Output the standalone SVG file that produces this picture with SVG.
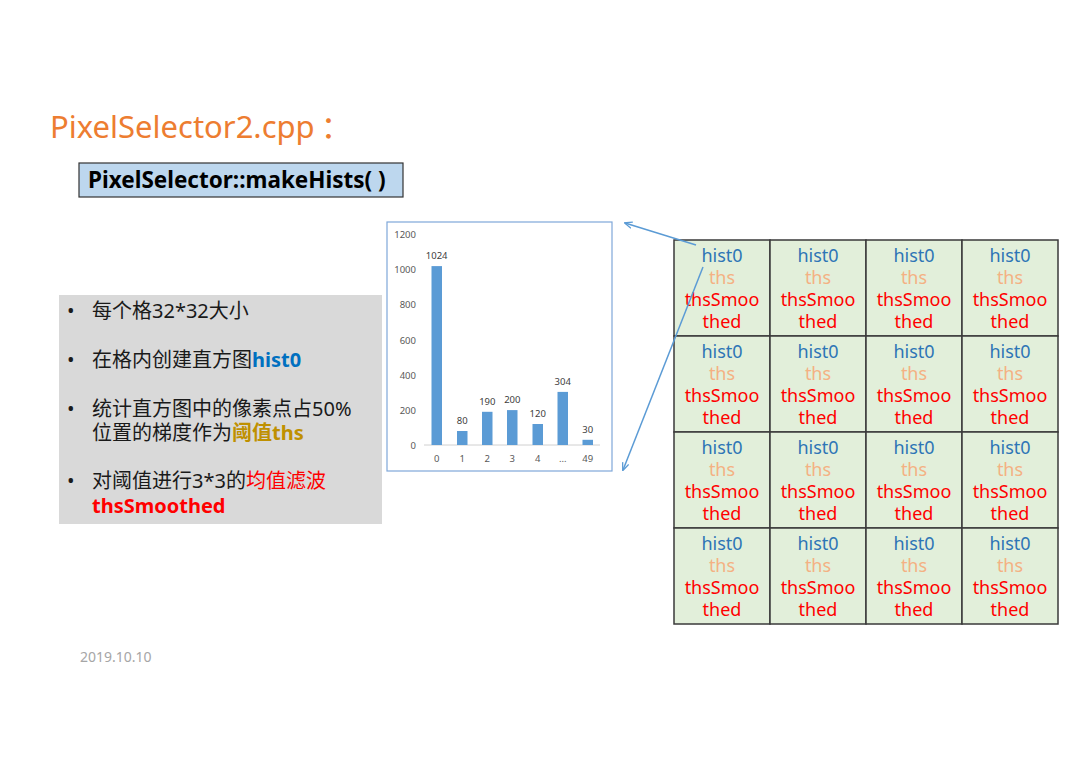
<svg xmlns="http://www.w3.org/2000/svg" width="1080" height="762" viewBox="0 0 1080 762">
<defs>
<style>
text{font-family:"Noto Sans","Noto Sans CJK SC",sans-serif;}
.title{font-size:31px;fill:#ED7D31;}
.fn{font-size:22.5px;font-weight:bold;fill:#000;}
.ax{font-size:9.5px;fill:#595959;text-anchor:end;}
.xl{font-size:9.5px;fill:#595959;text-anchor:middle;}
.vl{font-size:9.5px;fill:#404040;text-anchor:middle;}
.bar{fill:#5B9BD5;}
.bl{font-size:20px;fill:#1a1a1a;}
.cell{fill:#E2EFDA;stroke:#3A3A3A;stroke-width:1.5;}
.c{font-size:18px;text-anchor:middle;}
.h{fill:#2E75B6;}
.t{fill:#F4B183;}
.s{fill:#FF0000;}
.conn{stroke:#5B9BD5;stroke-width:1.5;fill:none;marker-end:url(#ah);}
</style>
<marker id="ah" viewBox="0 0 10 10" refX="9" refY="5" markerWidth="8" markerHeight="8" orient="auto-start-reverse" markerUnits="userSpaceOnUse">
<path d="M0,1 L10,5 L0,9" fill="none" stroke="#5B9BD5" stroke-width="1.6"/>
</marker>
</defs>
<rect width="1080" height="762" fill="#fff"/>

<g id="title"><text class="title" x="50" y="138">PixelSelector2.cpp<tspan dx="6">：</tspan></text></g>

<g id="func">
<rect x="79" y="163" width="324" height="34" fill="#BDD7EE" stroke="#333" stroke-width="1.2"/>
<text class="fn" x="88" y="188">PixelSelector::makeHists( )</text>
</g>

<g id="chart">
<rect x="387" y="222" width="225" height="249" fill="#fff" stroke="#7FA7D9" stroke-width="1.2"/>
<text class="ax" x="416" y="238">1200</text>
<text class="ax" x="416" y="273">1000</text>
<text class="ax" x="416" y="308">800</text>
<text class="ax" x="416" y="344">600</text>
<text class="ax" x="416" y="379">400</text>
<text class="ax" x="416" y="414">200</text>
<text class="ax" x="416" y="449">0</text>
<line x1="424" y1="445" x2="600" y2="445" stroke="#D0D0D0" stroke-width="1"/>
<rect class="bar" x="431.5" y="266.1" width="10.5" height="178.9"/>
<rect class="bar" x="457" y="431" width="10.5" height="14"/>
<rect class="bar" x="482" y="411.8" width="10.5" height="33.2"/>
<rect class="bar" x="507" y="410.1" width="10.5" height="34.9"/>
<rect class="bar" x="532.5" y="424" width="10.5" height="21"/>
<rect class="bar" x="557.5" y="391.9" width="10.5" height="53.1"/>
<rect class="bar" x="582.5" y="439.8" width="10.5" height="5.2"/>
<text class="vl" x="436.7" y="259">1024</text>
<text class="vl" x="462.3" y="424">80</text>
<text class="vl" x="487.3" y="405">190</text>
<text class="vl" x="512.3" y="403">200</text>
<text class="vl" x="537.7" y="417">120</text>
<text class="vl" x="562.7" y="385">304</text>
<text class="vl" x="587.7" y="433">30</text>
<text class="xl" x="436.7" y="462">0</text>
<text class="xl" x="462.3" y="462">1</text>
<text class="xl" x="487.3" y="462">2</text>
<text class="xl" x="512.3" y="462">3</text>
<text class="xl" x="537.7" y="462">4</text>
<text class="xl" x="562.7" y="462">…</text>
<text class="xl" x="587.7" y="462">49</text>
</g>

<g id="bullets">
<rect x="59" y="295" width="323" height="229" fill="#D9D9D9"/>
<text class="bl" x="67" y="318">•</text>
<text class="bl" x="92" y="318">每个格32*32大小</text>
<text class="bl" x="67" y="367">•</text>
<text class="bl" x="92" y="367">在格内创建直方图<tspan fill="#0070C0" font-weight="bold">hist0</tspan></text>
<text class="bl" x="67" y="416">•</text>
<text class="bl" x="92" y="416">统计直方图中的像素点占50%<tspan x="92" dy="24">位置的梯度作为</tspan><tspan fill="#BF9000" font-weight="bold">阈值ths</tspan></text>
<text class="bl" x="67" y="488">•</text>
<text class="bl" x="92" y="488">对阈值进行3*3的<tspan fill="#FF0000">均值滤波</tspan><tspan x="92" dy="25" font-weight="bold" style="fill:#FF0000">thsSmoothed</tspan></text>
</g>

<g id="grid">
<g id="cell-0-0"><rect class="cell" x="674" y="240" width="96" height="96"/><text class="c h" x="722" y="262">hist0</text><text class="c t" x="722" y="284">ths</text><text class="c s" x="722" y="306">thsSmoo</text><text class="c s" x="722" y="328">thed</text></g>
<g id="cell-0-1"><rect class="cell" x="770" y="240" width="96" height="96"/><text class="c h" x="818" y="262">hist0</text><text class="c t" x="818" y="284">ths</text><text class="c s" x="818" y="306">thsSmoo</text><text class="c s" x="818" y="328">thed</text></g>
<g id="cell-0-2"><rect class="cell" x="866" y="240" width="96" height="96"/><text class="c h" x="914" y="262">hist0</text><text class="c t" x="914" y="284">ths</text><text class="c s" x="914" y="306">thsSmoo</text><text class="c s" x="914" y="328">thed</text></g>
<g id="cell-0-3"><rect class="cell" x="962" y="240" width="96" height="96"/><text class="c h" x="1010" y="262">hist0</text><text class="c t" x="1010" y="284">ths</text><text class="c s" x="1010" y="306">thsSmoo</text><text class="c s" x="1010" y="328">thed</text></g>
<g id="cell-1-0"><rect class="cell" x="674" y="336" width="96" height="96"/><text class="c h" x="722" y="358">hist0</text><text class="c t" x="722" y="380">ths</text><text class="c s" x="722" y="402">thsSmoo</text><text class="c s" x="722" y="424">thed</text></g>
<g id="cell-1-1"><rect class="cell" x="770" y="336" width="96" height="96"/><text class="c h" x="818" y="358">hist0</text><text class="c t" x="818" y="380">ths</text><text class="c s" x="818" y="402">thsSmoo</text><text class="c s" x="818" y="424">thed</text></g>
<g id="cell-1-2"><rect class="cell" x="866" y="336" width="96" height="96"/><text class="c h" x="914" y="358">hist0</text><text class="c t" x="914" y="380">ths</text><text class="c s" x="914" y="402">thsSmoo</text><text class="c s" x="914" y="424">thed</text></g>
<g id="cell-1-3"><rect class="cell" x="962" y="336" width="96" height="96"/><text class="c h" x="1010" y="358">hist0</text><text class="c t" x="1010" y="380">ths</text><text class="c s" x="1010" y="402">thsSmoo</text><text class="c s" x="1010" y="424">thed</text></g>
<g id="cell-2-0"><rect class="cell" x="674" y="432" width="96" height="96"/><text class="c h" x="722" y="454">hist0</text><text class="c t" x="722" y="476">ths</text><text class="c s" x="722" y="498">thsSmoo</text><text class="c s" x="722" y="520">thed</text></g>
<g id="cell-2-1"><rect class="cell" x="770" y="432" width="96" height="96"/><text class="c h" x="818" y="454">hist0</text><text class="c t" x="818" y="476">ths</text><text class="c s" x="818" y="498">thsSmoo</text><text class="c s" x="818" y="520">thed</text></g>
<g id="cell-2-2"><rect class="cell" x="866" y="432" width="96" height="96"/><text class="c h" x="914" y="454">hist0</text><text class="c t" x="914" y="476">ths</text><text class="c s" x="914" y="498">thsSmoo</text><text class="c s" x="914" y="520">thed</text></g>
<g id="cell-2-3"><rect class="cell" x="962" y="432" width="96" height="96"/><text class="c h" x="1010" y="454">hist0</text><text class="c t" x="1010" y="476">ths</text><text class="c s" x="1010" y="498">thsSmoo</text><text class="c s" x="1010" y="520">thed</text></g>
<g id="cell-3-0"><rect class="cell" x="674" y="528" width="96" height="96"/><text class="c h" x="722" y="550">hist0</text><text class="c t" x="722" y="572">ths</text><text class="c s" x="722" y="594">thsSmoo</text><text class="c s" x="722" y="616">thed</text></g>
<g id="cell-3-1"><rect class="cell" x="770" y="528" width="96" height="96"/><text class="c h" x="818" y="550">hist0</text><text class="c t" x="818" y="572">ths</text><text class="c s" x="818" y="594">thsSmoo</text><text class="c s" x="818" y="616">thed</text></g>
<g id="cell-3-2"><rect class="cell" x="866" y="528" width="96" height="96"/><text class="c h" x="914" y="550">hist0</text><text class="c t" x="914" y="572">ths</text><text class="c s" x="914" y="594">thsSmoo</text><text class="c s" x="914" y="616">thed</text></g>
<g id="cell-3-3"><rect class="cell" x="962" y="528" width="96" height="96"/><text class="c h" x="1010" y="550">hist0</text><text class="c t" x="1010" y="572">ths</text><text class="c s" x="1010" y="594">thsSmoo</text><text class="c s" x="1010" y="616">thed</text></g>
</g>

<g id="connectors">
<line class="conn" x1="696" y1="245" x2="625" y2="223"/>
<line class="conn" x1="703" y1="267" x2="623" y2="470"/>
</g>

<g id="date"><text x="80" y="662" font-size="14" fill="#A6A6A6">2019.10.10</text></g>
</svg>
